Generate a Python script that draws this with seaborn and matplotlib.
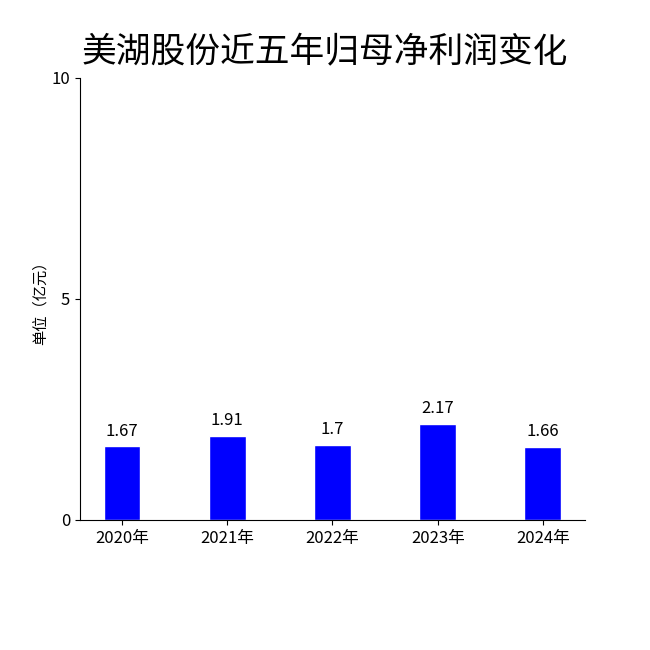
import seaborn as sns
import pandas as pd
import matplotlib.pyplot as plt

years = ["2020年", "2021年", "2022年", "2023年", "2024年"]
profit = [1.67, 1.91, 1.7, 2.17, 1.66]

sns.set_style("ticks")
plt.rcParams['font.family'] = ['Noto Sans CJK SC', 'DejaVu Sans']
plt.rcParams.update({"text.color": "black", "axes.labelcolor": "black",
                     "xtick.color": "black", "ytick.color": "black",
                     "axes.edgecolor": "black"})

df = pd.DataFrame({"year": years, "profit": profit})

fig = plt.figure(figsize=(6.5, 6.5), dpi=100)
ax = fig.add_axes([0.123, 0.2, 0.777, 0.68])
sns.barplot(data=df, x="year", y="profit", color="#0000ff", saturation=1,
            width=0.35, ax=ax)
for i, v in enumerate(profit):
    ax.text(i, v + 0.15, str(v), ha="center", va="bottom", fontsize=12)

ax.set_xlim(-0.4, 4.4)
ax.set_ylim(0, 10)
ax.set_yticks([0, 5, 10])
ax.set_xlabel("")
ax.set_ylabel("单位（亿元）", fontsize=11, labelpad=2)
ax.tick_params(labelsize=12)
sns.despine(ax=ax)
fig.suptitle("美湖股份近五年归母净利润变化", fontsize=25, y=0.945)

fig.savefig("out.png", dpi=100)
